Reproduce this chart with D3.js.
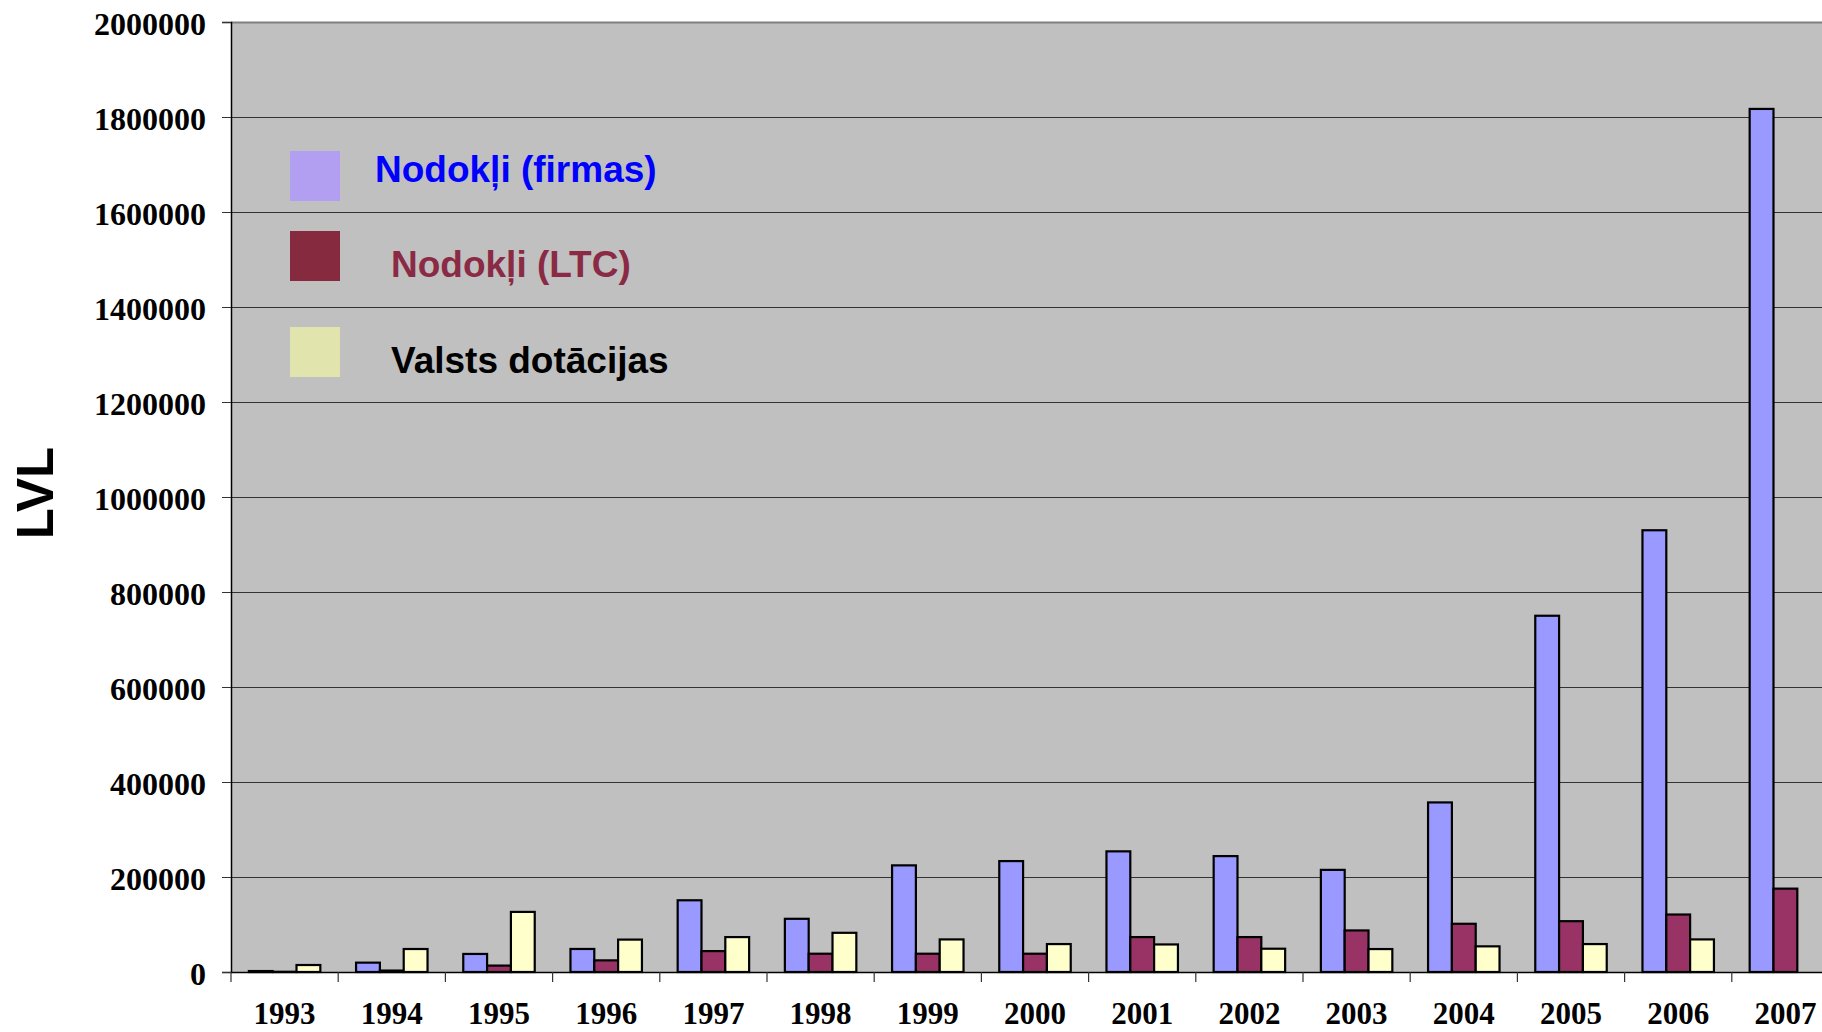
<!DOCTYPE html>
<html>
<head>
<meta charset="utf-8">
<script src="https://cdnjs.cloudflare.com/ajax/libs/d3/7.8.5/d3.min.js"></script>
<style>
  body { margin: 0; background: #fff; }
  svg { display: block; }
</style>
</head>
<body>
<script>

var years = ["1993","1994","1995","1996","1997","1998","1999","2000","2001","2002","2003","2004","2005","2006","2007"];
var seriesNames = ["Nodokļi (firmas)", "Nodokļi (LTC)", "Valsts dotācijas"];
var firmas = [2000, 19700, 38000, 48500, 151000, 112000, 224500, 233500, 254000, 244000, 215000, 357000, 750000, 930000, 1817000];
var ltc = [500, 3000, 13500, 24500, 44000, 38500, 38500, 38500, 73500, 73500, 87500, 101500, 107000, 121000, 175500];
var dotacijas = [14700, 48400, 126500, 68200, 73500, 82500, 68600, 58800, 58000, 49000, 48300, 54000, 58800, 68600, 0];
var yTicks = [0, 200000, 400000, 600000, 800000, 1000000, 1200000, 1400000, 1600000, 1800000, 2000000];
var ylabel = "LVL";

var width = 1822,
	height = 1032,
	plotLeft = 231,
	plotRight = 231 + 15 * 107.2, // runs past the window edge, like the original
	plotTop = 22,
	plotBottom = 972;

var barColors = ["#9999FF", "#993366", "#FFFFCC"];
var legendColors = ["#B39FF2", "#862A3F", "#E1E4AD"];
var legendText = ["#0000FF", "#8B2A45", "#000000"];

var rows = years.map(function(y, i) {
	return { year: y, values: [firmas[i], ltc[i], dotacijas[i]] };
});

var xScale = d3.scaleBand()
	.domain(years)
	.range([plotLeft, plotRight])
	.padding(0);

var xInner = d3.scaleBand()
	.domain([0, 1, 2])
	.range([0, xScale.bandwidth()])
	.paddingInner(0)
	.paddingOuter(0.75);

var yScale = d3.scaleLinear()
	.domain([0, 2000000])
	.range([plotBottom, plotTop]);

var svg = d3.select("body")
	.append("svg")
	.attr("width", width)
	.attr("height", height);

// grey plot area
svg.append("rect")
	.attr("x", plotLeft)
	.attr("y", plotTop)
	.attr("width", plotRight - plotLeft)
	.attr("height", plotBottom - plotTop)
	.attr("fill", "#C0C0C0");

// gridlines
svg.append("g")
	.selectAll("line")
	.data(yTicks.filter(function(d) { return d > 0; }))
	.enter()
	.append("line")
	.attr("x1", plotLeft)
	.attr("x2", plotRight)
	.attr("y1", function(d) { return Math.round(yScale(d)) + 0.5; })
	.attr("y2", function(d) { return Math.round(yScale(d)) + 0.5; })
	.attr("stroke", function(d) { return d == 2000000 ? "#808080" : "#333"; })
	.attr("stroke-width", function(d) { return d == 2000000 ? 2 : 1.2; });

// bars
var groups = svg.append("g")
	.selectAll("g")
	.data(rows)
	.enter()
	.append("g")
	.attr("transform", function(d) { return "translate(" + xScale(d.year) + ",0)"; });

groups.selectAll("rect")
	.data(function(d) { return d.values.map(function(v, k) { return { k: k, v: v }; }); })
	.enter()
	.filter(function(d) { return d.v > 0; })
	.append("rect")
	.attr("x", function(d) { return xInner(d.k); })
	.attr("width", xInner.bandwidth())
	.attr("y", function(d) { return yScale(d.v); })
	.attr("height", function(d) { return plotBottom - yScale(d.v); })
	.attr("fill", function(d) { return barColors[d.k]; })
	.attr("stroke", "#000")
	.attr("stroke-width", 2.2);

// y axis
var yAxis = svg.append("g")
	.attr("transform", "translate(" + plotLeft + ",0)")
	.call(d3.axisLeft(yScale)
		.tickValues(yTicks)
		.tickSize(9)
		.tickPadding(16)
		.tickFormat(d3.format("d")));

yAxis.select(".domain").attr("stroke", "#000").attr("stroke-width", 1.5);
yAxis.selectAll(".tick line").attr("stroke", "#333");
yAxis.selectAll("text")
	.attr("font-family", "'Liberation Serif', 'Times New Roman', serif")
	.attr("font-weight", "bold")
	.attr("font-size", 32)
	.attr("fill", "#000")
	.attr("dy", "0.38em");

// x axis
var xAxis = svg.append("g")
	.attr("transform", "translate(0," + plotBottom + ")")
	.call(d3.axisBottom(xScale).tickSize(0).tickPadding(0));

xAxis.select(".domain").attr("stroke", "#000").attr("stroke-width", 1.5);
xAxis.selectAll("text")
	.attr("font-family", "'Liberation Serif', 'Times New Roman', serif")
	.attr("font-weight", "bold")
	.attr("font-size", 31)
	.attr("fill", "#000")
	.attr("y", 52)
	.attr("dy", 0);

// ticks between categories
svg.append("g")
	.selectAll("line")
	.data(years)
	.enter()
	.append("line")
	.attr("x1", function(d) { return xScale(d); })
	.attr("x2", function(d) { return xScale(d); })
	.attr("y1", plotBottom)
	.attr("y2", plotBottom + 10)
	.attr("stroke", "#333")
	.attr("stroke-width", 1.2);

// y label
svg.append("text")
	.attr("transform", "translate(53," + 493 + ") rotate(-90)")
	.attr("text-anchor", "middle")
	.attr("font-family", "'Liberation Sans', Arial, sans-serif")
	.attr("font-weight", "bold")
	.attr("font-size", 51)
	.attr("fill", "#000")
	.text(ylabel);

// legend inside plot
var legendY = [151, 231, 327];
var legendTextX = [375, 391, 391];
var legendTextY = [182, 277, 373];

var legend = svg.append("g");

legend.selectAll("rect")
	.data(seriesNames)
	.enter()
	.append("rect")
	.attr("x", 290)
	.attr("y", function(d, i) { return legendY[i]; })
	.attr("width", 50)
	.attr("height", 50)
	.attr("fill", function(d, i) { return legendColors[i]; });

legend.selectAll("text")
	.data(seriesNames)
	.enter()
	.append("text")
	.attr("x", function(d, i) { return legendTextX[i]; })
	.attr("y", function(d, i) { return legendTextY[i]; })
	.attr("font-family", "'Liberation Sans', Arial, sans-serif")
	.attr("font-weight", "bold")
	.attr("font-size", 37)
	.attr("fill", function(d, i) { return legendText[i]; })
	.text(function(d) { return d; });

</script>
</body>
</html>
